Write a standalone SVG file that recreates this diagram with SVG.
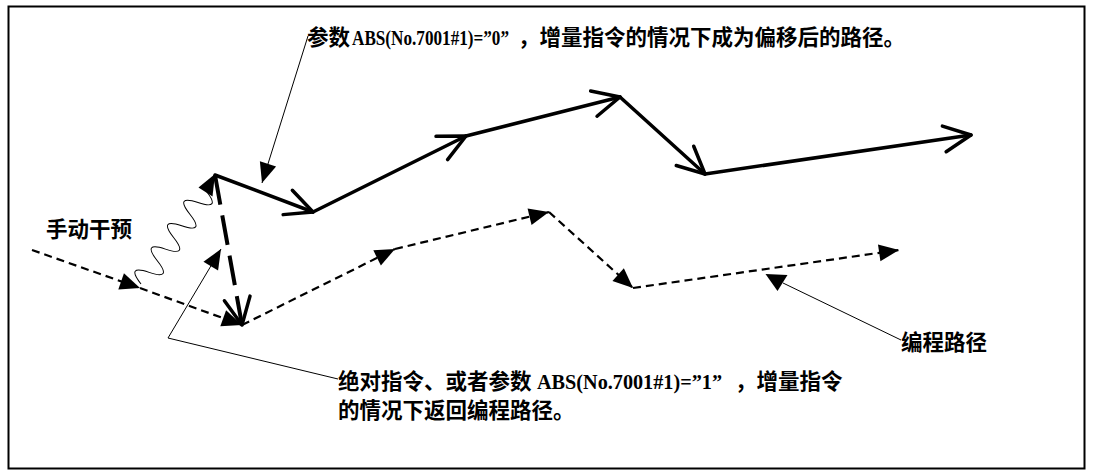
<svg xmlns="http://www.w3.org/2000/svg" width="1093" height="476" viewBox="0 0 1093 476">
<style>
.cjk{font-family:"Noto Sans CJK SC","Noto Sans CJK JP",sans-serif;font-weight:bold;font-size:21.5px;fill:#000}
.lat{font-family:"Liberation Serif","Times New Roman",serif;font-weight:bold;font-size:20px;fill:#000}
.dash{stroke:#000;stroke-width:2.2;fill:none;stroke-dasharray:8 5}
.thick{stroke:#000;stroke-width:3.5;fill:none;stroke-linecap:round}
.ldash{stroke:#000;stroke-width:4;fill:none;stroke-dasharray:30 11}
.lead{stroke:#000;stroke-width:1;fill:none}
</style>
<defs>
<marker id="tri" markerUnits="userSpaceOnUse" viewBox="-21 -10 22 20" markerWidth="22" markerHeight="20" refX="0" refY="0" orient="auto" overflow="visible">
<path d="M0,0 L-20,-8.5 L-20,8.5 Z" fill="#000" stroke="none"/>
</marker>
<marker id="open" markerUnits="userSpaceOnUse" viewBox="-30 -16 32 32" markerWidth="32" markerHeight="32" refX="0" refY="0" orient="auto" overflow="visible">
<path d="M-27,-13 L0,0 L-27,13" fill="none" stroke="#000" stroke-width="3.5" stroke-linecap="round" stroke-linejoin="round"/>
</marker>
</defs>
<rect x="8.5" y="6.5" width="1076" height="462" fill="#fff" stroke="#000" stroke-width="2"/>
<g id="connectors">
<line class="dash" x1="32" y1="250" x2="140" y2="288" marker-end="url(#tri)"/>
<line class="dash" x1="140" y1="288" x2="242" y2="325" marker-end="url(#tri)"/>
<line class="dash" x1="242" y1="325" x2="395" y2="249" marker-end="url(#tri)"/>
<line class="dash" x1="395" y1="249" x2="549" y2="212" marker-end="url(#tri)"/>
<line class="dash" x1="549" y1="212" x2="633" y2="288" marker-end="url(#tri)"/>
<line class="dash" x1="633" y1="288" x2="899" y2="250" marker-end="url(#tri)"/>
<line class="thick" x1="215" y1="175" x2="313" y2="212" marker-end="url(#open)"/>
<line class="thick" x1="313" y1="212" x2="466" y2="136" marker-end="url(#open)"/>
<line class="thick" x1="466" y1="136" x2="620" y2="97" marker-end="url(#open)"/>
<line class="thick" x1="620" y1="97" x2="705" y2="174" marker-end="url(#open)"/>
<line class="thick" x1="705" y1="174" x2="971" y2="135" marker-end="url(#open)"/>
<line class="ldash" x1="215" y1="175" x2="242" y2="325" marker-end="url(#open)"/>
<path class="lead" stroke-width="1.7" transform="translate(141,284) rotate(-55)" d="M0,0 c4.73,-16 9.47,-16 14.2,0 s9.47,16 14.2,0 s9.47,-16 14.2,0 s9.47,16 14.2,0 s9.47,-16 14.2,0 s9.47,16 14.2,0 s9.47,-16 14.2,0 s9.47,16 14.2,0"/>
<polygon points="215,174 198.5,187.5 212.5,196.5" fill="#000"/>
<line class="lead" x1="308" y1="36" x2="262" y2="183" marker-end="url(#tri)"/>
<polyline class="lead" points="338,379 168,338 221,249" marker-end="url(#tri)"/>
<line class="lead" x1="901" y1="340" x2="783" y2="283"/>
<polygon points="765.5,274 787.5,275 777.5,291" fill="#000"/>
</g>
<g id="label-top">
<text class="cjk" x="307" y="45">参数</text>
<text class="lat" x="352" y="45" font-size="18" textLength="157" lengthAdjust="spacingAndGlyphs">ABS(No.7001#1)=”0”</text>
<text class="cjk" x="518" y="45">，增量指令的情况下成为偏移后的路径。</text>
</g>
<g id="label-manual">
<text class="cjk" x="46" y="237">手动干预</text>
</g>
<g id="label-program">
<text class="cjk" x="901" y="350">编程路径</text>
</g>
<g id="label-bottom">
<text class="cjk" y="389"><tspan x="338">绝对指令、或者参数</tspan><tspan class="lat" x="537" textLength="185" lengthAdjust="spacingAndGlyphs">ABS(No.7001#1)=”1”</tspan><tspan x="735">，增量指令</tspan></text>
<text class="cjk" x="338" y="418">的情况下返回编程路径。</text>
</g>
</svg>
